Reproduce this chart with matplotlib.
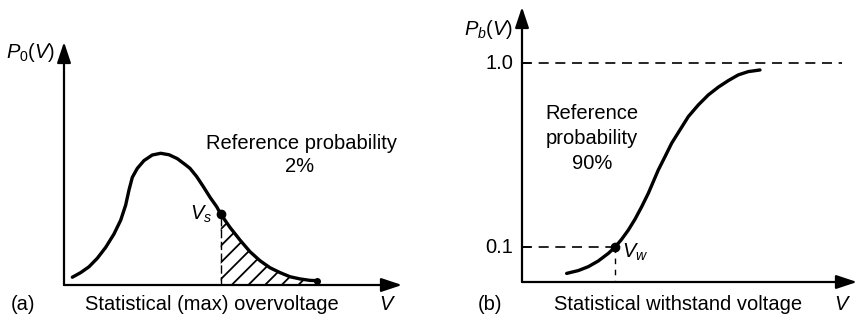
import numpy as np
import matplotlib
matplotlib.use("Agg")
import matplotlib.pyplot as plt

plt.rcParams['font.family'] = ['Liberation Sans', 'DejaVu Sans']
plt.rcParams['mathtext.fontset'] = 'custom'
plt.rcParams['mathtext.rm'] = 'Liberation Sans'
plt.rcParams['mathtext.it'] = 'Liberation Sans:italic'
plt.rcParams['hatch.linewidth'] = 1.3

# ---- data: panel (a) overvoltage distribution ----
va = np.array([0.246, 0.494, 0.740, 0.985, 1.234, 1.479, 1.678, 1.825, 1.923, 2.021,
               2.169, 2.367, 2.612, 2.861, 3.107, 3.352, 3.601, 3.728, 3.926, 4.121,
               4.320, 4.518, 4.636, 4.911, 5.207, 5.503, 5.799, 6.095, 6.391, 6.686,
               6.982, 7.278, 7.476])
pa = np.array([0.032, 0.051, 0.075, 0.110, 0.155, 0.210, 0.267, 0.329, 0.391, 0.443,
               0.480, 0.512, 0.535, 0.542, 0.536, 0.520, 0.494, 0.480, 0.446, 0.405,
               0.361, 0.322, 0.292, 0.237, 0.185, 0.137, 0.100, 0.071, 0.051, 0.034,
               0.025, 0.019, 0.018])
vs_x, vs_y = 4.636, 0.292

# ---- data: panel (b) withstand probability ----
vb = np.array([1.333, 1.682, 1.980, 2.279, 2.577, 2.776, 2.975, 3.174, 3.373, 3.572,
               3.771, 3.920, 4.069, 4.269, 4.468, 4.716, 4.965, 5.263, 5.562, 5.860,
               6.158, 6.457, 6.755, 7.104])
pb = np.array([-0.028, -0.014, 0.005, 0.033, 0.070, 0.100, 0.139, 0.184, 0.237, 0.298,
               0.364, 0.421, 0.478, 0.543, 0.609, 0.674, 0.739, 0.796, 0.845, 0.883,
               0.915, 0.943, 0.959, 0.967])
vw_x, vw_y = 2.776, 0.1
ref_levels = [0.1, 1.0]
ref_labels = ['0.1', '1.0']

W, H = 861, 321
fig = plt.figure(figsize=(W / 100, H / 100), dpi=100)
FS = 14.5

def axes_px(l, r, b, t):
    return fig.add_axes([l / W, (H - b) / H, (r - l) / W, (b - t) / H])

def draw_axes_arrows(ax):
    for s in ax.spines.values():
        s.set_visible(False)
    ax.set_xticks([]); ax.set_yticks([])
    ax.patch.set_alpha(0)
    kw = dict(arrowstyle='-|>,head_length=0.9,head_width=0.3', color='black', lw=1.6,
              shrinkA=0, shrinkB=0, mutation_scale=14)
    ax.annotate('', xy=(0, 1), xytext=(0, 0), xycoords='axes fraction',
                textcoords='axes fraction', arrowprops=kw, annotation_clip=False)
    ax.annotate('', xy=(1, 0), xytext=(0, 0), xycoords='axes fraction',
                textcoords='axes fraction', arrowprops=kw, annotation_clip=False)

# ---------------- panel (a) ----------------
axa = axes_px(64, 402, 285, 42)
axa.set_xlim(0, 10); axa.set_ylim(0, 1)
draw_axes_arrows(axa)
axa.fill_between(va, pa, 0, where=va >= vs_x, facecolor='none', edgecolor='black',
                 hatch='//', lw=0)
axa.plot(va, pa, color='black', lw=2.4, solid_capstyle='round', solid_joinstyle='round',
         clip_on=False)
axa.plot([vs_x, vs_x], [0, vs_y], color='black', lw=1.0, ls=(0, (6, 2.5)))
axa.plot([vs_x], [vs_y], 'o', color='black', ms=6)
axa.plot([va[-1]], [pa[-1]], 'o', color='black', ms=4, clip_on=False)

axa.text(-0.27, 0.955, r'$P_0(V)$', ha='right', va='center', fontsize=FS)
axa.text(7.04, 0.584, 'Reference probability', ha='center', va='center', fontsize=FS)
axa.text(6.98, 0.486, '2%', ha='center', va='center', fontsize=FS)
axa.text(4.38, 0.29, r'$V_s$', ha='right', va='center', fontsize=FS)
axa.text(-1.21, -0.082, '(a)', ha='center', va='center', fontsize=FS, clip_on=False)
axa.text(4.38, -0.082, 'Statistical (max) overvoltage', ha='center', va='center', fontsize=FS)
axa.text(9.56, -0.082, r'$V$', ha='center', va='center', fontsize=FS)

# ---------------- panel (b) ----------------
axb = axes_px(522, 857, 282, 7)
axb.set_xlim(0, 10); axb.set_ylim(-0.070, 1.275)
draw_axes_arrows(axb)
axb.plot(vb, pb, color='black', lw=2.4, solid_capstyle='round', solid_joinstyle='round')
axb.plot([0, 9.55], [1.0, 1.0], color='black', lw=1.2, ls=(0, (6, 4)))
axb.plot([0, vw_x], [vw_y, vw_y], color='black', lw=1.2, ls=(0, (6, 4)))
axb.plot([vw_x, vw_x], [vw_y, -0.070], color='black', lw=1.0, ls=(0, (4, 4)))
axb.plot([vw_x], [vw_y], 'o', color='black', ms=6)
for lvl, lab in zip(ref_levels, ref_labels):
    axb.plot([0, 0.25], [lvl, lvl], color='black', lw=1.2)
    axb.text(-0.27, lvl, lab, ha='right', va='center', fontsize=FS)

axb.text(-0.27, 1.165, r'$P_b(V)$', ha='right', va='center', fontsize=FS)
axb.text(2.09, 0.752, 'Reference', ha='center', va='center', fontsize=FS)
axb.text(2.09, 0.630, 'probability', ha='center', va='center', fontsize=FS)
axb.text(2.09, 0.509, '90%', ha='center', va='center', fontsize=FS)
axb.text(3.0, 0.076, r'$V_w$', ha='left', va='center', fontsize=FS)
axb.text(-0.955, -0.181, '(b)', ha='center', va='center', fontsize=FS)
axb.text(4.66, -0.181, 'Statistical withstand voltage', ha='center', va='center', fontsize=FS)
axb.text(9.58, -0.181, r'$V$', ha='center', va='center', fontsize=FS)

fig.savefig('out.png', dpi=100)
